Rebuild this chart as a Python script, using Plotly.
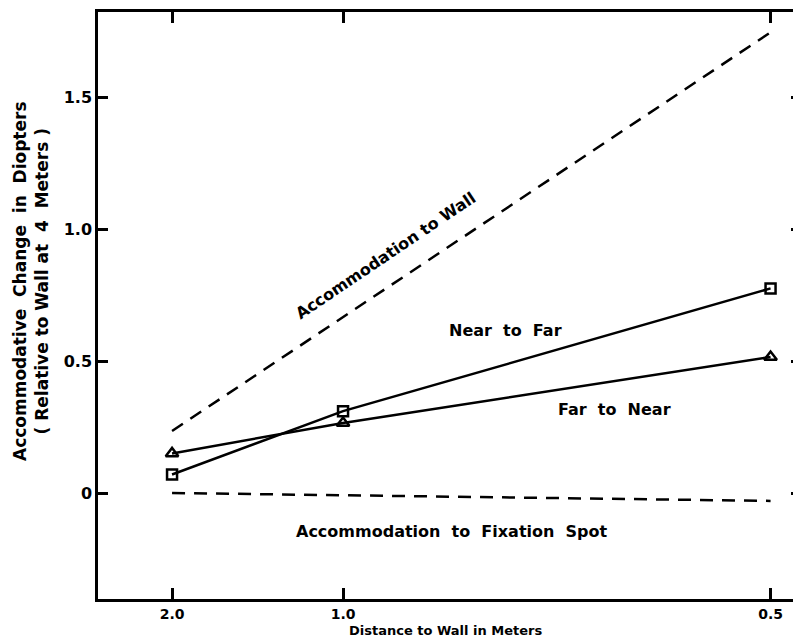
import plotly.graph_objects as go

# Data (x axis positions of the three wall distances on the chart's scale)
distance_labels = ["2.0", "1.0", "0.5"]
x_position = [0.0, 1.0, 3.5]

near_to_far = [0.07, 0.31, 0.775]
far_to_near = [0.15, 0.265, 0.515]
wall_x = [0.0, 3.5]
wall_acc = [0.235, 1.745]
spot_x = [0.0, 3.5]
spot_acc = [0.0, -0.03]

y_ticks = [0, 0.5, 1.0, 1.5]
y_tick_text = ["0", "0.5", "1.0", "1.5"]

FONT = "DejaVu Sans"
fig = go.Figure()

fig.add_trace(go.Scatter(x=wall_x, y=wall_acc, mode="lines",
                         line=dict(color="black", width=2.5, dash="13px,9px"),
                         showlegend=False))
fig.add_trace(go.Scatter(x=spot_x, y=spot_acc, mode="lines",
                         line=dict(color="black", width=2.5, dash="13px,9px"),
                         showlegend=False))
fig.add_trace(go.Scatter(x=x_position, y=near_to_far, mode="lines+markers",
                         line=dict(color="black", width=2.5),
                         marker=dict(symbol="square-open", size=10, color="black",
                                     line=dict(width=2.5, color="black")),
                         showlegend=False))
fig.add_trace(go.Scatter(x=x_position, y=far_to_near, mode="lines+markers",
                         line=dict(color="black", width=2.5),
                         marker=dict(symbol="triangle-up-open", size=11, color="black",
                                     line=dict(width=2.5, color="black")),
                         showlegend=False))

ann_font = dict(family=FONT, size=16, color="black")
sp = "&nbsp;&nbsp;"
fig.add_annotation(x=1.25, y=0.9, text="<b>Accommodation to Wall</b>", showarrow=False,
                   textangle=-34, font=ann_font)
fig.add_annotation(x=1.95, y=0.614, text="<b>Near" + sp + "to" + sp + "Far</b>",
                   showarrow=False, font=ann_font)
fig.add_annotation(x=2.59, y=0.318, text="<b>Far" + sp + "to" + sp + "Near</b>",
                   showarrow=False, font=ann_font)
fig.add_annotation(x=1.64, y=-0.144, text="<b>Accommodation  to  Fixation  Spot</b>",
                   showarrow=False, font=ann_font)

# axis titles
fig.add_annotation(xref="paper", yref="paper", x=0.494, y=-0.0681, yanchor="bottom",
                   text="<b>Distance to Wall in Meters</b>", showarrow=False, borderpad=0,
                   font=dict(family=FONT, size=13, color="black"))
fig.add_annotation(xref="paper", yref="paper", x=-0.0953, y=0.5417, xanchor="center",
                   text="<b>Accommodative  Change  in  Diopters<br>( Relative to Wall at  4  Meters )</b>",
                   textangle=-90, showarrow=False,
                   font=dict(family=FONT, size=17, color="black"))

fig.update_xaxes(range=[-0.433, 3.678], tickvals=x_position,
                 ticktext=["<b>%s</b>" % t for t in distance_labels],
                 ticks="inside", ticklen=11, tickwidth=2.5, tickcolor="black",
                 showline=True, linecolor="black", linewidth=2.5, mirror="allticks",
                 showgrid=False, zeroline=False, automargin=False,
                 tickfont=dict(family=FONT, size=14, color="black"))
fig.update_yaxes(range=[-0.4015, 1.822], tickvals=y_ticks,
                 ticktext=["<b>%s</b>" % t for t in y_tick_text],
                 ticks="inside", ticklen=10, tickwidth=2.5, tickcolor="black",
                 showline=True, linecolor="black", linewidth=2.5, mirror="ticks",
                 showgrid=False, zeroline=False, automargin=False,
                 tickfont=dict(family=FONT, size=16, color="black"))

fig.update_layout(width=793, height=632, plot_bgcolor="white", paper_bgcolor="white",
                  margin=dict(l=90, r=0, t=4, b=41))

fig.write_html("out.html")
